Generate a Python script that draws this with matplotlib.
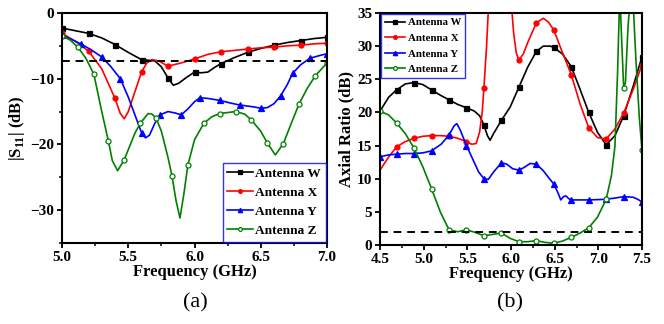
import matplotlib
matplotlib.use("Agg")
import matplotlib.pyplot as plt
import numpy as np
from matplotlib.ticker import MultipleLocator

plt.rcParams['font.family'] = ['Liberation Serif', 'DejaVu Serif']
plt.rcParams['font.weight'] = 'bold'
plt.rcParams['mathtext.fontset'] = 'custom'
plt.rcParams['mathtext.rm'] = 'Liberation Serif:bold'
plt.rcParams['mathtext.bf'] = 'Liberation Serif:bold'

# ---------- (a) |S11| ----------
a_w_f = [5.0, 5.1, 5.2, 5.3, 5.4, 5.5, 5.6, 5.65, 5.7, 5.75, 5.8, 5.84, 5.88, 5.94, 6.0, 6.05, 6.1, 6.15, 6.2, 6.3, 6.4, 6.5, 6.6, 6.7, 6.8, 6.9, 7.0]
a_w_v = [-2.3, -2.7, -3.1, -3.8, -4.8, -6.0, -7.1, -7.2, -7.3, -8.2, -9.9, -11.0, -10.7, -9.8, -9.0, -9.1, -9.0, -8.3, -7.7, -6.8, -6.0, -5.4, -4.9, -4.5, -4.2, -3.9, -3.7]
a_w_mk = [5.0, 5.2, 5.4, 5.6, 5.8, 6.0, 6.2, 6.4, 6.6, 6.8, 7.0]

a_x_f = [5.0, 5.1, 5.2, 5.3, 5.4, 5.44, 5.47, 5.5, 5.55, 5.6, 5.64, 5.68, 5.73, 5.8, 5.9, 6.0, 6.1, 6.2, 6.3, 6.4, 6.5, 6.6, 6.7, 6.8, 6.9, 7.0]
a_x_v = [-3.1, -4.3, -5.8, -8.5, -13.0, -15.3, -16.1, -15.0, -12.0, -9.0, -7.6, -7.1, -7.3, -8.1, -7.6, -7.0, -6.3, -5.9, -5.7, -5.5, -5.3, -5.2, -5.0, -4.9, -4.7, -4.6]
a_x_mk = [5.0, 5.2, 5.4, 5.6, 5.8, 6.0, 6.2, 6.4, 6.6, 6.8, 7.0]

a_y_f = [5.0, 5.07, 5.14, 5.22, 5.3, 5.37, 5.44, 5.5, 5.55, 5.6, 5.63, 5.66, 5.7, 5.74, 5.8, 5.85, 5.9, 5.95, 6.0, 6.04, 6.1, 6.19, 6.27, 6.34, 6.45, 6.5, 6.55, 6.6, 6.65, 6.7, 6.74, 6.8, 6.87, 6.94, 7.0]
a_y_v = [-3.4, -4.0, -4.7, -5.6, -6.7, -8.2, -10.0, -12.8, -15.5, -18.2, -19.0, -18.6, -16.8, -15.5, -15.0, -15.2, -15.5, -14.6, -13.5, -12.9, -13.0, -13.3, -13.7, -14.0, -14.3, -14.5, -14.4, -13.8, -12.6, -10.9, -9.2, -7.9, -6.9, -6.5, -6.2]
a_y_mk = [5.0, 5.14, 5.3, 5.44, 5.6, 5.74, 5.9, 6.04, 6.19, 6.34, 6.5, 6.65, 6.74, 6.87, 7.0]

a_z_f = [5.0, 5.06, 5.12, 5.18, 5.24, 5.3, 5.35, 5.38, 5.42, 5.47, 5.5, 5.55, 5.59, 5.65, 5.68, 5.71, 5.75, 5.8, 5.83, 5.86, 5.89, 5.92, 5.95, 6.0, 6.07, 6.13, 6.19, 6.31, 6.38, 6.43, 6.5, 6.55, 6.61, 6.67, 6.73, 6.79, 6.85, 6.91, 7.0]
a_z_v = [-3.5, -4.1, -5.2, -6.9, -9.3, -15.0, -19.5, -22.5, -24.0, -22.3, -20.8, -18.3, -16.8, -15.3, -15.4, -16.0, -18.0, -22.0, -24.8, -28.5, -31.2, -27.5, -23.1, -19.3, -16.8, -15.8, -15.3, -15.0, -15.4, -16.3, -18.0, -19.8, -21.6, -19.9, -16.8, -13.8, -11.5, -9.6, -7.6]
a_z_mk = [5.0, 5.12, 5.24, 5.35, 5.47, 5.59, 5.71, 5.83, 5.95, 6.07, 6.19, 6.31, 6.43, 6.55, 6.67, 6.79, 6.91, 7.0]

a_ref = -7.3

# ---------- (b) Axial ratio ----------
b_w_f = [4.5, 4.6, 4.69, 4.79, 4.89, 4.99, 5.09, 5.19, 5.29, 5.39, 5.49, 5.58, 5.64, 5.69, 5.73, 5.76, 5.8, 5.89, 5.99, 6.09, 6.19, 6.29, 6.37, 6.45, 6.49, 6.59, 6.69, 6.79, 6.89, 6.99, 7.09, 7.19, 7.29, 7.4, 7.5]
b_w_v = [20.2, 22.3, 23.4, 24.3, 24.5, 24.2, 23.4, 22.6, 21.9, 21.2, 20.7, 20.2, 19.5, 18.1, 16.5, 15.8, 16.8, 18.8, 20.8, 23.8, 26.8, 29.2, 30.0, 30.0, 29.8, 28.8, 26.9, 23.5, 20.0, 17.0, 15.1, 16.5, 19.5, 24.0, 28.4]
b_w_mk = [4.69, 4.89, 5.09, 5.29, 5.49, 5.69, 5.89, 6.09, 6.29, 6.49, 6.69, 6.89, 7.09, 7.29, 7.5]

b_x_f = [4.5, 4.6, 4.69, 4.79, 4.89, 4.99, 5.09, 5.19, 5.29, 5.39, 5.49, 5.55, 5.6, 5.64, 5.67, 5.69, 5.72, 5.75, 5.85, 5.95, 6.0, 6.03, 6.06, 6.09, 6.14, 6.19, 6.29, 6.37, 6.43, 6.49, 6.59, 6.69, 6.79, 6.89, 6.99, 7.09, 7.19, 7.29, 7.4, 7.5]
b_x_v = [11.3, 13.3, 14.8, 15.6, 16.1, 16.4, 16.5, 16.5, 16.4, 16.1, 15.6, 15.2, 15.3, 17.0, 20.0, 23.7, 30.0, 38.0, 48.0, 45.0, 37.0, 32.0, 29.0, 27.9, 28.8, 30.5, 33.5, 34.2, 33.6, 32.4, 29.0, 25.7, 21.3, 17.7, 16.2, 16.0, 17.5, 19.9, 23.5, 27.2]
b_x_mk = [4.69, 4.89, 5.09, 5.29, 5.49, 5.69, 6.09, 6.29, 6.49, 6.69, 6.89, 7.09, 7.29, 7.5]

b_y_f = [4.5, 4.6, 4.69, 4.79, 4.89, 4.99, 5.09, 5.2, 5.29, 5.35, 5.38, 5.42, 5.49, 5.56, 5.63, 5.69, 5.74, 5.8, 5.89, 5.95, 6.02, 6.09, 6.15, 6.22, 6.29, 6.37, 6.44, 6.49, 6.54, 6.57, 6.6, 6.63, 6.66, 6.69, 6.8, 6.89, 7.0, 7.09, 7.2, 7.29, 7.4, 7.45, 7.5]
b_y_v = [13.3, 13.6, 13.7, 13.8, 13.8, 13.9, 14.2, 15.2, 16.6, 18.0, 18.3, 17.3, 15.0, 13.0, 11.0, 10.0, 9.9, 11.0, 12.4, 12.2, 11.5, 11.3, 11.7, 12.3, 12.2, 11.2, 10.0, 9.2, 7.8, 6.8, 7.3, 7.4, 7.0, 6.8, 6.8, 6.8, 6.85, 6.9, 7.1, 7.3, 7.2, 6.9, 6.5]
b_y_mk = [4.5, 4.69, 4.89, 5.09, 5.29, 5.49, 5.69, 5.89, 6.09, 6.29, 6.49, 6.69, 6.89, 7.09, 7.29, 7.5]

b_z_f = [4.5, 4.6, 4.69, 4.79, 4.89, 4.99, 5.09, 5.19, 5.29, 5.39, 5.49, 5.59, 5.69, 5.79, 5.89, 5.99, 6.09, 6.19, 6.29, 6.39, 6.49, 6.59, 6.69, 6.79, 6.89, 6.99, 7.09, 7.15, 7.19, 7.22, 7.245, 7.27, 7.29, 7.31, 7.34, 7.37, 7.4, 7.43, 7.47, 7.5]
b_z_v = [20.2, 19.6, 18.4, 16.8, 14.6, 11.8, 8.5, 5.0, 2.3, 2.0, 2.3, 1.9, 1.4, 1.6, 1.8, 1.0, 0.5, 0.5, 0.65, 0.4, 0.25, 0.6, 1.15, 1.8, 2.6, 4.2, 6.9, 10.5, 14.9, 26.0, 38.0, 30.0, 23.7, 24.5, 33.0, 38.0, 36.0, 28.0, 19.0, 14.3]
b_z_mk = [4.5, 4.69, 4.89, 5.09, 5.29, 5.49, 5.69, 5.89, 6.09, 6.29, 6.49, 6.69, 6.89, 7.09, 7.29, 7.5]

b_ref = 2.0

names = ['Antenna W', 'Antenna X', 'Antenna Y', 'Antenna Z']
colors = ['black', 'red', 'blue', 'green']
markers = ['s', 'o', '^', 'o']
msizes = [3.6, 3.6, 4.2, 3.6]

fig = plt.figure(figsize=(6.64, 3.24), dpi=100)
axa = fig.add_axes([0.0934, 0.25, 0.3991, 0.71])
axb = fig.add_axes([0.5723, 0.2438, 0.3946, 0.7162])

def style(ax):
    for s in ax.spines.values():
        s.set_linewidth(1.5)
    ax.tick_params(which='major', direction='out', length=3.5, width=1.3,
                   labelsize=11, pad=2)
    ax.tick_params(which='minor', direction='out', length=2.5, width=1.1)
    for lab in ax.get_xticklabels() + ax.get_yticklabels():
        lab.set_fontweight('bold')

def draw(ax, fs, vs, mk, i):
    fc = 'white' if i == 3 else colors[i]
    idx = [int(np.argmin(np.abs(np.array(fs) - m))) for m in mk]
    ax.plot(fs, vs, color=colors[i], lw=1.2, marker=markers[i], markevery=idx,
            markersize=msizes[i], markerfacecolor=fc, markeredgecolor=colors[i],
            markeredgewidth=0.9, label=names[i])

def legend(ax, loc, fs, ls):
    lg = ax.legend(loc=loc, fontsize=fs, frameon=True, fancybox=False,
                   borderaxespad=0.1, handlelength=1.9, labelspacing=ls,
                   borderpad=0.35, handletextpad=0.2, markerscale=0.75)
    lg.get_frame().set_edgecolor('blue')
    lg.get_frame().set_linewidth(1.0)
    for t in lg.get_texts():
        t.set_fontweight('bold')
    return lg

series_a = [(a_w_f, a_w_v, a_w_mk), (a_x_f, a_x_v, a_x_mk), (a_y_f, a_y_v, a_y_mk), (a_z_f, a_z_v, a_z_mk)]
for i, (f, v, m) in enumerate(series_a):
    draw(axa, f, v, m, i)
axa.axhline(a_ref, color='black', ls=(0, (4, 3)), lw=1.4)
axa.set_xlim(5.0, 7.0)
axa.set_ylim(-35, 0)
axa.xaxis.set_minor_locator(MultipleLocator(0.25))
axa.yaxis.set_major_locator(MultipleLocator(10))
axa.yaxis.set_minor_locator(MultipleLocator(5))
axa.set_xticks([5.0, 5.5, 6.0, 6.5, 7.0])
axa.set_xticklabels(['5.0', '5.5', '6.0', '6.5', '7.0'])
axa.set_xlabel('Frequency (GHz)', fontsize=12, fontweight='bold', labelpad=0)
axa.set_ylabel(r'|S$_{\mathbf{11}}$| (dB)', fontsize=12, fontweight='bold', labelpad=2)
style(axa)
legend(axa, 'lower right', 9.6, 0.5)

series_b = [(b_w_f, b_w_v, b_w_mk), (b_x_f, b_x_v, b_x_mk), (b_y_f, b_y_v, b_y_mk), (b_z_f, b_z_v, b_z_mk)]
for i, (f, v, m) in enumerate(series_b):
    draw(axb, f, v, m, i)
axb.axhline(b_ref, color='black', ls=(0, (4, 3)), lw=1.4)
axb.set_xlim(4.5, 7.5)
axb.set_ylim(0, 35)
axb.xaxis.set_minor_locator(MultipleLocator(0.25))
axb.yaxis.set_major_locator(MultipleLocator(5))
axb.set_xticks([4.5, 5.0, 5.5, 6.0, 6.5, 7.0, 7.5])
axb.set_xticklabels(['4.5', '5.0', '5.5', '6.0', '6.5', '7.0', '7.5'])
axb.set_xlabel('Frequency (GHz)', fontsize=12, fontweight='bold', labelpad=0)
axb.set_ylabel('Axial Ratio (dB)', fontsize=12, fontweight='bold', labelpad=2)
style(axb)
legend(axb, 'upper left', 7.8, 0.55)

fig.text(0.2937, 0.035, '(a)', fontsize=16, fontweight='normal', ha='center', va='bottom')
fig.text(0.768, 0.035, '(b)', fontsize=16, fontweight='normal', ha='center', va='bottom')

fig.savefig('out.png', dpi=100)
